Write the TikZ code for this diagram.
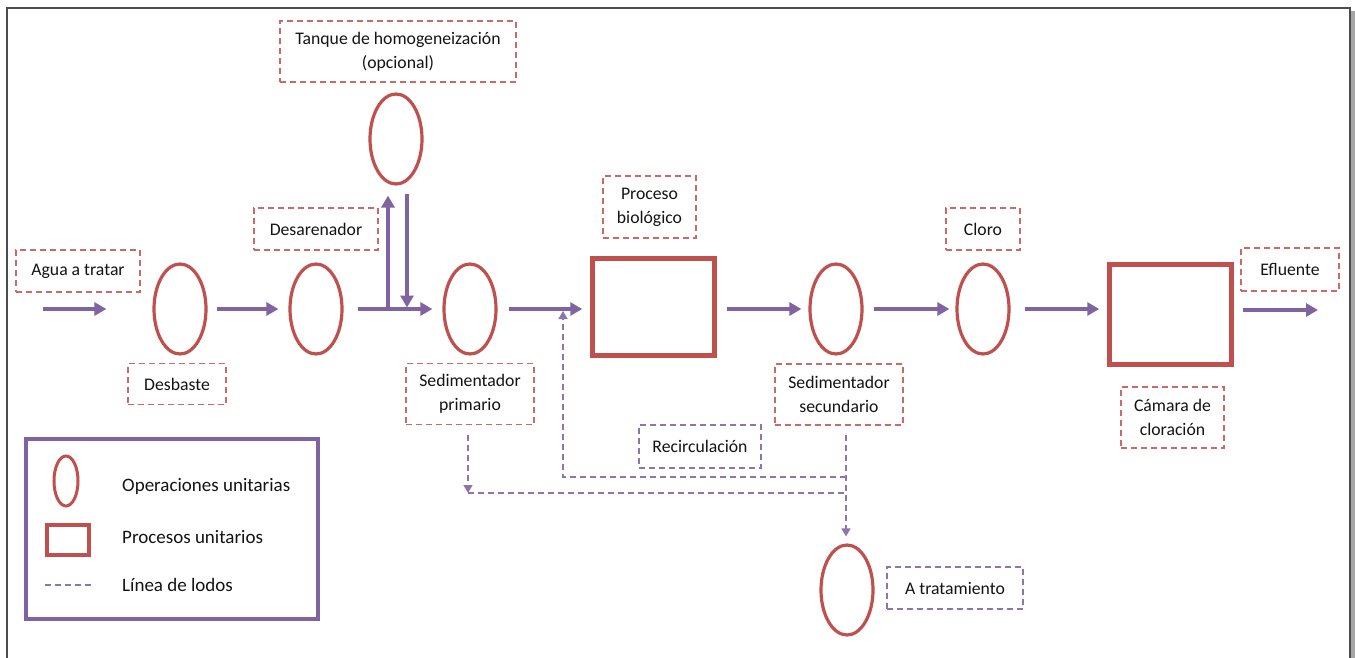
\documentclass[tikz,border=0pt]{standalone}
\usepackage{fontspec}
\setmainfont{Carlito}
\usetikzlibrary{arrows.meta,shapes.geometric,calc}
\definecolor{opred}{HTML}{C0504D}
\definecolor{lodo}{HTML}{8064A2}
\definecolor{txt}{HTML}{141414}
\tikzset{
  unitop/.style={ellipse,draw=opred,line width=3.2pt,minimum width=52pt,minimum height=90pt,inner sep=0pt},
  unitproc/.style={rectangle,draw=opred,line width=4.5pt,inner sep=0pt},
  tag/.style={rectangle,draw=opred!85,dashed,dash pattern=on 6pt off 4pt,line width=1.4pt,
    align=center,inner sep=0pt,text=txt,font=\fontsize{17.7}{24}\selectfont},
  ltag/.style={tag,draw=lodo!90},
  flow/.style={draw=lodo,line width=3.5pt,-{Triangle[length=12pt,width=13pt]}},
  sludge/.style={draw=lodo!90,line width=1.5pt,dash pattern=on 6pt off 4pt},
  sludgetip/.style={sludge,-{Triangle[length=8pt,width=9pt]}},
  legtext/.style={anchor=west,text=txt,font=\fontsize{19}{24}\selectfont,inner sep=0pt}
}
\begin{document}
\begin{tikzpicture}[x=1pt,y=-1pt]
\useasboundingbox (0,0) rectangle (1355,658);
\fill[white] (0,0) rectangle (1355,658);
% page frame with its shadow
\fill[black!35] (1351,11) rectangle (1355,658);
\draw[black!70,line width=2pt] (7,658) |- (1350,8) -- (1350,658);

% unit operations
\node[unitop] (desb)  at (180,309) {};
\node[unitop] (desar) at (316,309) {};
\node[unitop] (tank)  at (396,139) {};
\node[unitop] (sedp)  at (470,309) {};
\node[unitop] (seds)  at (836,309) {};
\node[unitop] (cloro) at (983,309) {};
\node[unitop] (atrat) at (847,590) {};
% unit processes
\node[unitproc,minimum width=122pt,minimum height=97pt] (bio) at (653.5,307) {};
\node[unitproc,minimum width=122pt,minimum height=100pt] (cam) at (1170.5,314.5) {};

% labels
\node[tag,minimum width=124pt,minimum height=42pt] (aguaL)  at (78,271) {Agua a tratar};
\node[tag,minimum width=98pt,minimum height=41pt]  (desbL)  at (177,384) {Desbaste};
\node[tag,minimum width=124pt,minimum height=42pt] (desarL) at (316,229) {Desarenador};
\node[tag,minimum width=236pt,minimum height=61pt] (tankL)  at (398,51.5) {Tanque de homogeneización\\(opcional)};
\node[tag,minimum width=128pt,minimum height=61pt] (sedpL)  at (470,394) {Sedimentador\\primario};
\node[tag,minimum width=93pt,minimum height=62pt]  (bioL)   at (649.5,207) {Proceso\\biológico};
\node[tag,minimum width=128pt,minimum height=61pt] (sedsL)  at (839,394.5) {Sedimentador\\secundario};
\node[tag,minimum width=74pt,minimum height=42pt]  (cloroL) at (983,229) {Cloro};
\node[tag,minimum width=103pt,minimum height=61pt] (camL)   at (1172.5,417.5) {Cámara de\\cloración};
\node[tag,minimum width=98pt,minimum height=43pt]  (eflL)   at (1290,269.5) {Efluente};
\node[ltag,minimum width=122pt,minimum height=43pt] (recL)  at (700,446.5) {Recirculación};
\node[ltag,minimum width=136pt,minimum height=42pt] (atratL) at (955,588) {A tratamiento};

% main water line
\coordinate (inlet) at (43,309);
\coordinate (outlet) at (1318,310);
\draw[flow,shorten >=46pt] (inlet) -- (desb);
\draw[flow,shorten <=9pt,shorten >=10pt] (desb) -- (desar);
\draw[flow,shorten <=14pt,shorten >=10pt] (desar) -- (sedp);
\draw[flow,shorten <=11pt,shorten >=8pt] (sedp) -- (sedp -| bio.west);
\draw[flow,shorten <=10pt,shorten >=7pt] (bio.east |- seds) -- (seds);
\draw[flow,shorten <=10pt,shorten >=6pt] (seds) -- (cloro);
\draw[flow,shorten <=14pt,shorten >=8pt] (cloro) -- (cloro -| cam.west);
\draw[flow,shorten <=9pt] (cam.east |- outlet) -- (outlet);

% homogenization by-pass
\coordinate (tee) at (388,309);
\coordinate (ret) at (407,309);
\draw[flow,shorten >=10pt] (tee) -- (tee |- tank.south);
\draw[flow,shorten <=8pt,shorten >=1.5pt] (ret |- tank.south) -- (ret);

% sludge lines
\coordinate (s2top) at (846,435);
\coordinate (rjoin) at (846,477);
\coordinate (pjoin) at (846,493);
\coordinate (p1top) at (468,435);
\coordinate (p1bot) at (468,493);
\coordinate (recin) at (563,311);
\draw[sludgetip,shorten >=7pt] (s2top) -- (s2top |- atrat.north);
\draw[sludgetip] (rjoin) -| (recin);
\draw[sludgetip] (p1top) -- (p1bot);
\draw[sludge] (p1bot) -- (pjoin);

% legend
\node[draw=lodo,line width=3.5pt,minimum width=292pt,minimum height=180pt,inner sep=0pt] (legend) at (172,529) {};
\node[unitop,line width=3pt,minimum width=24pt,minimum height=50pt] (legop) at (66,481) {};
\node[unitproc,line width=4pt,minimum width=42pt,minimum height=30pt] (legproc) at (68,540) {};
\coordinate (legdashA) at (45,585);
\coordinate (legdashB) at (91,585);
\draw[sludge] (legdashA) -- (legdashB);
\node[legtext] (legt1) at (122,486) {Operaciones unitarias};
\node[legtext] (legt2) at (122,537) {Procesos unitarios};
\node[legtext] (legt3) at (122,585) {Línea de lodos};
\end{tikzpicture}
\end{document}
